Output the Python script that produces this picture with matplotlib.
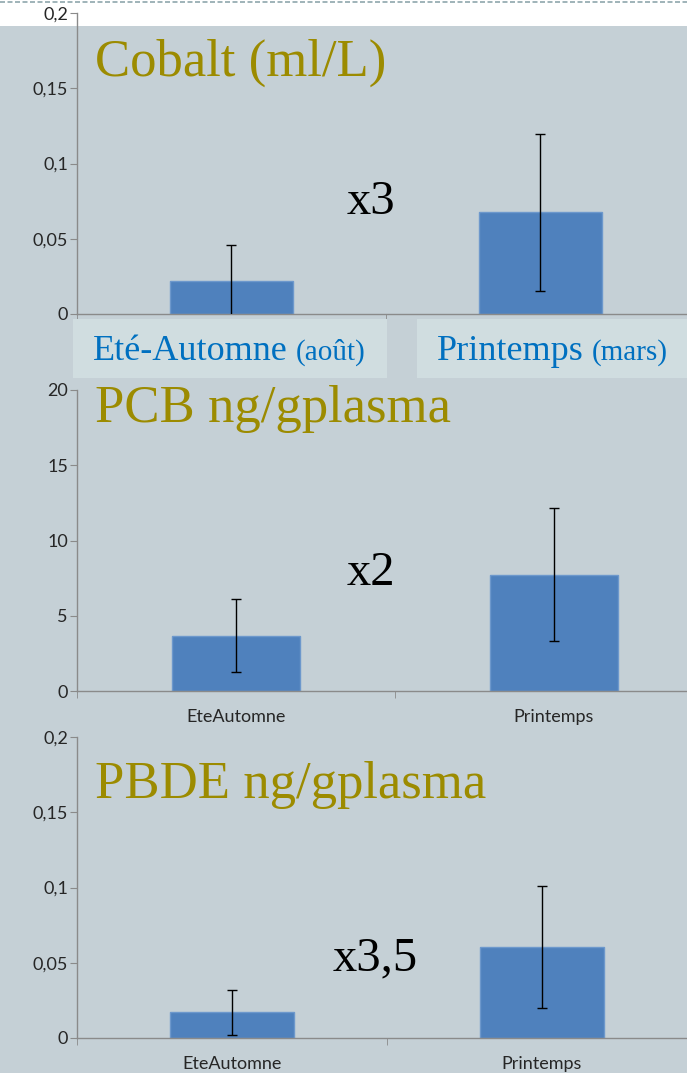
import matplotlib.pyplot as plt
from matplotlib.ticker import FuncFormatter, FixedLocator
from matplotlib.patches import Rectangle
from matplotlib.lines import Line2D

W, H = 687, 1073

# data
seasons = ['Eté-Automne', 'Printemps']
months = ['(août)', '(mars)']
categories = ['EteAutomne', 'Printemps']

cobalt_mean = [0.022, 0.0675]
cobalt_err = [0.024, 0.052]
pcb_mean = [3.68, 7.74]
pcb_err = [2.43, 4.42]
pbde_mean = [0.017, 0.0605]
pbde_err = [0.015, 0.0405]

titles = ['Cobalt (ml/L)', 'PCB ng/gplasma', 'PBDE ng/gplasma']
ratios = ['x3', 'x2', 'x3,5']

BG = '#C5D0D6'
BAR = '#4F81BD'
OLIVE = '#9C8B00'
BLUE = '#0070C0'
AXIS = '#8A8A8A'
SERIF = 'Liberation Serif'
SANS = 'Lato'

fig = plt.figure(figsize=(W / 100, H / 100), dpi=100, facecolor=BG)

# white strip on top with dashed line
fig.patches.append(Rectangle((0, 1 - 26 / H), 1, 26 / H, transform=fig.transFigure,
                             facecolor='white', edgecolor='none', zorder=-5))
fig.lines.append(Line2D([0, 1], [1 - 2 / H, 1 - 2 / H], transform=fig.transFigure,
                        color='#8FA7AD', lw=1.2, ls=(0, (3, 1.5)), zorder=-4))


def comma(v, pos):
    s = f'{v:g}'
    return s.replace('.', ',')


def panel(left, right, top, bottom, means, errs, ymax, yticks, labels):
    ax = fig.add_axes([left / W, 1 - bottom / H, (right - left) / W, (bottom - top) / H])
    ax.set_facecolor('none')
    x = range(len(means))
    ax.bar(x, means, width=0.4, color=BAR, edgecolor='#6D98CC', linewidth=1, zorder=2)
    ax.errorbar(x, means, yerr=errs, fmt='none', ecolor='black', elinewidth=1,
                capsize=3.5, capthick=1, zorder=3)
    ax.set_xlim(-0.5, 1.5)
    ax.set_ylim(0, ymax)
    ax.set_yticks(yticks)
    ax.yaxis.set_major_formatter(FuncFormatter(comma))
    for s in ['top', 'right']:
        ax.spines[s].set_visible(False)
    for s in ['left', 'bottom']:
        ax.spines[s].set_color(AXIS)
        ax.spines[s].set_linewidth(1)
    ax.tick_params(axis='y', colors=AXIS, length=5, labelcolor='#262626',
                   labelsize=13, pad=1.5)
    ax.set_xticks([0, 1])
    if labels:
        ax.set_xticklabels(labels)
    else:
        ax.set_xticklabels([])
    ax.tick_params(axis='x', length=0, labelsize=13, labelcolor='#262626', pad=13)
    ax.xaxis.set_minor_locator(FixedLocator([-0.5, 0.5, 1.5]))
    ax.tick_params(axis='x', which='minor', length=5, colors=AXIS)
    for t in ax.get_yticklabels() + ax.get_xticklabels():
        t.set_fontfamily(SANS)
    return ax


panel(77, 695, 13, 314, cobalt_mean, cobalt_err, 0.2, [0, 0.05, 0.1, 0.15, 0.2], None)
panel(77, 713, 390, 691, pcb_mean, pcb_err, 20, [0, 5, 10, 15, 20], categories)
panel(77, 697, 737, 1038, pbde_mean, pbde_err, 0.2, [0, 0.05, 0.1, 0.15, 0.2], categories)

# category boxes under the first panel
for x0, x1 in [(73, 387), (417, 700)]:
    fig.patches.append(Rectangle((x0 / W, 1 - 378 / H), (x1 - x0) / W, 59 / H,
                                 transform=fig.transFigure, facecolor='#D0DDE0',
                                 edgecolor='none', zorder=1))

renderer = fig.canvas.get_renderer()
season_x = [93, 437]
for i in range(2):
    st = fig.text(season_x[i] / W, 1 - 360 / H, seasons[i], family=SERIF, fontsize=26,
                  color=BLUE, va='baseline', ha='left')
    end = st.get_window_extent(renderer).x1
    fig.text((end + 8) / W, 1 - 360 / H, months[i], family=SERIF, fontsize=21,
             color=BLUE, va='baseline', ha='left')

title_y = [76, 422, 798]
for t, y in zip(titles, title_y):
    fig.text(95 / W, 1 - y / H, t, family=SERIF, fontsize=38, color=OLIVE,
             va='baseline', ha='left')

ratio_pos = [(347, 214), (347, 585), (333, 970)]
for r, (x, y) in zip(ratios, ratio_pos):
    fig.text(x / W, 1 - y / H, r, family=SERIF, fontsize=35, color='black',
             va='baseline', ha='left')

fig.savefig('out.png', dpi=100, facecolor=BG)
